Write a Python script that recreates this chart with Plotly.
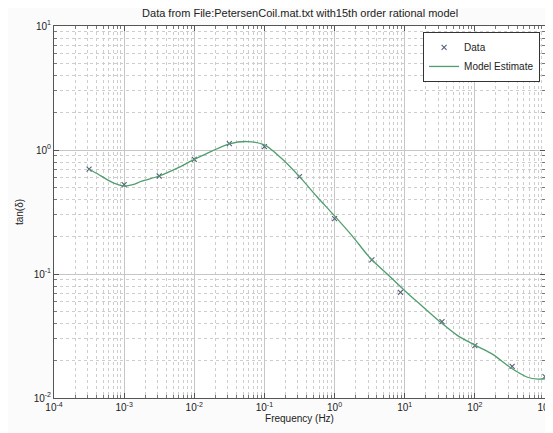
import plotly.graph_objects as go

# Measured data points
data_freq = [3.16e-4, 1e-3, 3.16e-3, 1e-2, 3.16e-2, 1e-1, 3.16e-1, 1.0, 3.4, 8.7, 34.0, 100.0, 340.0, 1000.0]
data_tan = [0.70, 0.526, 0.617, 0.84, 1.127, 1.065, 0.61, 0.28, 0.130, 0.0712, 0.0413, 0.0265, 0.018, 0.0149]

# Model estimate curve
model_freq = [3.16e-4, 4.22e-4, 5.62e-4, 7.50e-4, 1e-3, 1.33e-3, 1.78e-3, 3.16e-3, 5.62e-3,
              1e-2, 1.78e-2, 3.16e-2, 5.62e-2, 1e-1, 1.78e-1, 3.16e-1, 5.62e-1, 1.0,
              1.78, 3.16, 5.62, 10.0, 17.8, 31.6, 56.2, 100.0, 178.0, 316.0, 562.0,
              794.0, 1000.0]
model_tan = [0.70, 0.64, 0.58, 0.535, 0.512, 0.525, 0.56, 0.617, 0.71,
             0.84, 0.98, 1.12, 1.17, 1.10, 0.85, 0.61, 0.42, 0.294,
             0.203, 0.136, 0.10, 0.0734, 0.055, 0.0413, 0.032, 0.0267, 0.0226, 0.0177, 0.0147,
             0.0142, 0.0143]

x_tickvals = [1e-4, 1e-3, 1e-2, 1e-1, 1, 10, 100, 1000]
x_ticktext = ["10<sup>-4</sup>", "10<sup>-3</sup>", "10<sup>-2</sup>", "10<sup>-1</sup>",
              "10<sup>0</sup>", "10<sup>1</sup>", "10<sup>2</sup>", "10<sup>3</sup>"]
y_tickvals = [1e-2, 1e-1, 1, 10]
y_ticktext = ["10<sup>-2</sup>", "10<sup>-1</sup>", "10<sup>0</sup>", "10<sup>1</sup>"]

title_text = "Data from File:PetersenCoil.mat.txt with15th order rational model"
FONT = "Liberation Sans, Arial, sans-serif"

fig = go.Figure()
fig.add_trace(go.Scatter(
    x=data_freq, y=data_tan, mode="markers", name="Data",
    marker=dict(symbol="x-thin", size=5, color="#55607a",
                line=dict(width=1.1, color="#55607a")),
))
fig.add_trace(go.Scatter(
    x=model_freq, y=model_tan, mode="lines", name="Model Estimate",
    line=dict(color="#4f9e6e", width=1.3, shape="spline", smoothing=0.8),
))

axis_common = dict(
    type="log", automargin=False,
    showline=True, linecolor="#555555", linewidth=1, mirror="ticks",
    ticks="inside", ticklen=5, tickcolor="#555555",
    showgrid=True, gridcolor="#c6c6c6", gridwidth=1,
    zeroline=False,
    tickfont=dict(family=FONT, size=10, color="#222222"),
    minor=dict(ticks="inside", ticklen=3, tickcolor="#777777", dtick="D1",
               showgrid=True, gridcolor="#cdcdcd", gridwidth=1, griddash="dot"),
)

fig.update_xaxes(range=[-4, 3], tickvals=x_tickvals, ticktext=x_ticktext,
                 title=dict(text="Frequency (Hz)", standoff=2,
                            font=dict(family=FONT, size=10, color="#222222")),
                 **axis_common)
fig.update_yaxes(range=[-2, 1], tickvals=y_tickvals, ticktext=y_ticktext,
                 title=dict(text="tan(δ)", standoff=8,
                            font=dict(family=FONT, size=10, color="#222222")),
                 **axis_common)

fig.update_layout(
    width=545, height=425,
    margin=dict(l=46, r=8, t=18, b=35),
    paper_bgcolor="#fbfbfb", plot_bgcolor="white",
    title=dict(text=title_text, x=0.536, xanchor="center", y=0.988, yanchor="middle",
               font=dict(family=FONT, size=11, color="#222222")),
    legend=dict(x=0.99, y=0.984, xanchor="right", yanchor="top",
                bgcolor="white", bordercolor="#333333", borderwidth=1,
                font=dict(family=FONT, size=10, color="#222222"),
                tracegroupgap=0, itemwidth=30),
    showlegend=True,
)

fig.write_html("out.html")
